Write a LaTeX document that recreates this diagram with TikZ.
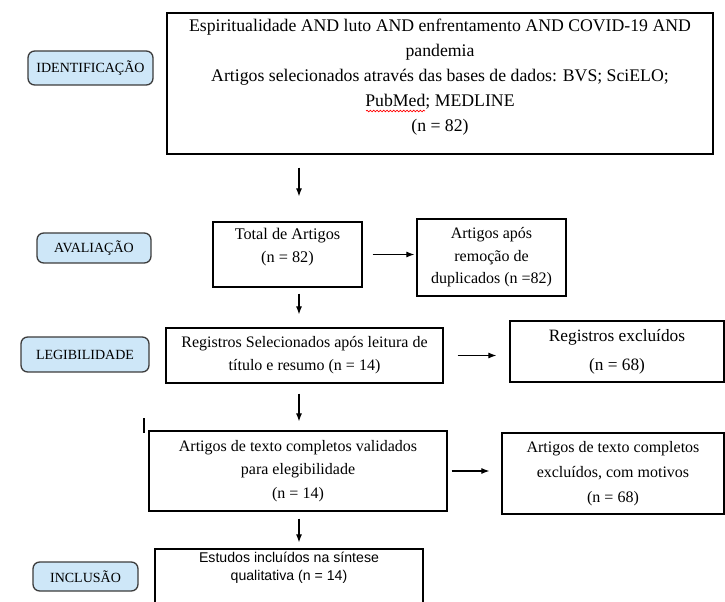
\documentclass[tikz,border=0pt]{standalone}
\usepackage{fontspec}
\setmainfont{Liberation Serif}
\newfontfamily\arialfont{Liberation Sans}
\usetikzlibrary{arrows.meta, decorations.pathmorphing}

\definecolor{stagefill}{RGB}{206,231,248}
\definecolor{stageline}{RGB}{60,60,60}

\begin{document}
\begin{tikzpicture}[x=0.75pt, y=-0.75pt,
      every node/.style = {align=center, inner sep=2pt},
      box/.style = {shape=rectangle, draw, line width=0.9pt},
      stage/.style = {shape=rectangle, rounded corners=5pt, draw=stageline,
        fill=stagefill, line width=1pt, font=\fontsize{10.5}{12}\selectfont},
      arr/.style = {-{Latex[length=6pt,width=4.5pt]}, line width=0.8pt}]
  \useasboundingbox (0,0) rectangle (725,602);

  % etapas
  \node[stage, minimum width=93.75pt, minimum height=25.5pt] (identif) at (90.5,68) {IDENTIFICAÇÃO};
  \node[stage, minimum width=85.5pt, minimum height=22.5pt] (aval) at (94,248) {AVALIAÇÃO};
  \node[stage, minimum width=96pt, minimum height=26.25pt] (legib) at (85,354.5) {LEGIBILIDADE};
  \node[stage, minimum width=78.75pt, minimum height=21.75pt] (inclus) at (85.5,576.5) {INCLUSÃO};

  % caixas
  \node[box, minimum width=409.5pt, minimum height=105.75pt, text depth=12pt,
    font=\fontsize{13.3}{18.75}\selectfont] (busca) at (440,83.5)
    {Espiritualidade AND luto AND enfrentamento AND COVID-19 AND\\
     pandemia\\
     Artigos selecionados através das bases de dados: BVS; SciELO;\\
     PubMed; MEDLINE\\
     (n = 82)};
  \node[box, minimum width=111.75pt, minimum height=48.75pt, text depth=14pt,
    font=\fontsize{12.2}{17.25}\selectfont] (total) at (287.5,254.5)
    {Total de Artigos\\(n = 82)};
  \node[box, minimum width=111.75pt, minimum height=57.75pt,
    font=\fontsize{12}{16.9}\selectfont] (dupl) at (491.5,257.5)
    {Artigos após\\remoção de\\duplicados (n =82)};
  \node[box, minimum width=207.75pt, minimum height=41.25pt,
    font=\fontsize{12}{17.25}\selectfont] (selec) at (304.5,355.5)
    {Registros Selecionados após leitura de\\título e resumo (n = 14)};
  \node[box, minimum width=160.5pt, minimum height=45.75pt,
    font=\fontsize{13}{21.75}\selectfont] (exclu) at (617,351.5)
    {Registros excluídos\\(n = 68)};
  \node[box, minimum width=223.5pt, minimum height=60pt,
    font=\fontsize{12}{17.6}\selectfont] (texto) at (298,471)
    {Artigos de texto completos validados\\para elegibilidade\\(n = 14)};
  \node[box, minimum width=166.5pt, minimum height=60.75pt,
    font=\fontsize{12}{18.75}\selectfont] (textoex) at (613,473.5)
    {Artigos de texto completos\\excluídos, com motivos\\(n = 68)};
  \node[box, minimum width=201pt, minimum height=53.25pt, text depth=28pt,
    font=\arialfont\fontsize{10.6}{13.5}\selectfont] (estudos) at (289,584.5)
    {Estudos incluídos na síntese\\qualitativa (n = 14)};

  % sublinhado do corretor
  \draw[red, line width=0.5pt, decorate, decoration={snake, amplitude=0.6pt, segment length=2.5pt}]
    (366,111) -- (425,111);

  % setas
  \coordinate (eixo) at (299,0);
  \draw[arr, shorten <=9.75pt, shorten >=18.75pt] (busca.south -| eixo) -- (total.north -| eixo);
  \draw[arr, shorten <=4.5pt, shorten >=9.75pt] (total.south -| eixo) -- (selec.north -| eixo);
  \draw[arr, shorten <=7.5pt, shorten >=6.75pt] (selec.south -| eixo) -- (texto.north -| eixo);
  \draw[arr, shorten <=5.25pt, shorten >=4.5pt] (texto.south -| eixo) -- (estudos.north -| eixo);
  \draw[arr, shorten <=7.5pt, shorten >=1.5pt] (total.east) -- (dupl.west |- total.east);
  \draw[arr, shorten <=10.5pt, shorten >=9.75pt] (selec.east) -- (exclu.west |- selec.east);
  \draw[arr, shorten <=3pt, shorten >=9pt] (texto.east) -- (textoex.west |- texto.east);

  \draw[line width=0.8pt] (144,418) -- (144,433);
\end{tikzpicture}
\end{document}
